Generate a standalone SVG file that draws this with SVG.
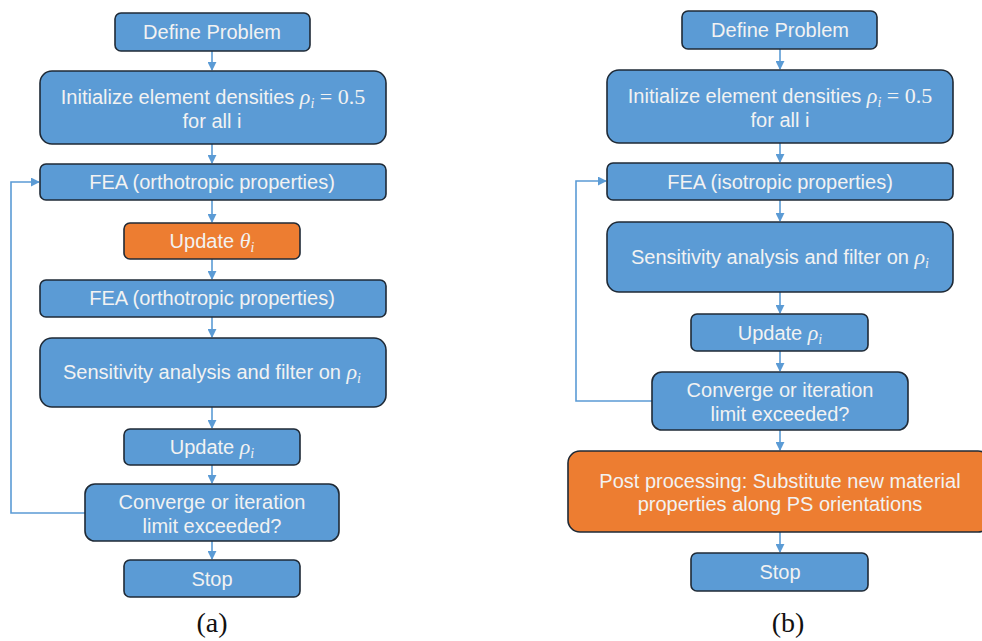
<svg xmlns="http://www.w3.org/2000/svg" width="982" height="641" viewBox="0 0 982 641">
<style>
.b{fill:#5B9BD5;stroke:#1f2a36;stroke-width:1.6}
.o{fill:#ED7D31;stroke:#1f2a36;stroke-width:1.6}
.t{font-family:"Liberation Sans",Arial,sans-serif;font-size:20px;fill:#F2F2F2;text-anchor:middle}
.m{font-family:"Liberation Serif","Times New Roman",serif;font-style:italic;font-size:22px}
.s{font-family:"Liberation Serif","Times New Roman",serif;font-style:italic;font-size:14px}
.n{font-family:"Liberation Serif","Times New Roman",serif;font-size:22px}
.c{stroke:#5B9BD5;stroke-width:1.6;fill:none}
.cap{font-family:"Liberation Serif","Times New Roman",serif;font-size:28px;fill:#111;text-anchor:middle}
</style>
<defs>
<marker id="ar" viewBox="0 0 10 10" refX="9" refY="5" markerWidth="9" markerHeight="9" markerUnits="userSpaceOnUse" orient="auto">
<path d="M0,0 L10,5 L0,10 z" fill="#5B9BD5"/>
</marker>
</defs>
<g id="connectors">
<line class="c" x1="212" y1="51" x2="212" y2="70" marker-end="url(#ar)"/>
<line class="c" x1="212" y1="144" x2="212" y2="163" marker-end="url(#ar)"/>
<line class="c" x1="212" y1="200" x2="212" y2="222" marker-end="url(#ar)"/>
<line class="c" x1="212" y1="259" x2="212" y2="279" marker-end="url(#ar)"/>
<line class="c" x1="212" y1="317" x2="212" y2="337" marker-end="url(#ar)"/>
<line class="c" x1="212" y1="407" x2="212" y2="428" marker-end="url(#ar)"/>
<line class="c" x1="212" y1="465" x2="212" y2="483" marker-end="url(#ar)"/>
<line class="c" x1="212" y1="541" x2="212" y2="559" marker-end="url(#ar)"/>
<polyline class="c" points="85,513 11,513 11,182 39,182" marker-end="url(#ar)"/>
<line class="c" x1="780" y1="49" x2="780" y2="69" marker-end="url(#ar)"/>
<line class="c" x1="780" y1="143" x2="780" y2="162" marker-end="url(#ar)"/>
<line class="c" x1="780" y1="200" x2="780" y2="221" marker-end="url(#ar)"/>
<line class="c" x1="780" y1="292" x2="780" y2="313" marker-end="url(#ar)"/>
<line class="c" x1="780" y1="351" x2="780" y2="371" marker-end="url(#ar)"/>
<line class="c" x1="780" y1="430" x2="780" y2="450" marker-end="url(#ar)"/>
<line class="c" x1="780" y1="532" x2="780" y2="552" marker-end="url(#ar)"/>
<polyline class="c" points="652,401 576,401 576,181 606,181" marker-end="url(#ar)"/>
</g>
<g id="a-define"><rect class="b" x="115" y="13" width="195" height="38" rx="6"/><text class="t" x="212" y="39">Define Problem</text></g>
<g id="a-init"><rect class="b" x="40" y="71" width="346" height="73" rx="12"/><text class="t" x="213" y="104">Initialize element densities <tspan class="m">ρ</tspan><tspan class="s" dy="4">i</tspan><tspan class="n" dy="-4"> = 0.5</tspan></text><text class="t" x="212" y="128">for all i</text></g>
<g id="a-fea1"><rect class="b" x="40" y="164" width="346" height="36" rx="6"/><text class="t" x="212" y="189">FEA (orthotropic properties)</text></g>
<g id="a-theta"><rect class="o" x="124" y="223" width="176" height="36" rx="6"/><text class="t" x="212" y="248">Update <tspan class="m">θ</tspan><tspan class="s" dy="4">i</tspan></text></g>
<g id="a-fea2"><rect class="b" x="40" y="280" width="346" height="37" rx="6"/><text class="t" x="212" y="305">FEA (orthotropic properties)</text></g>
<g id="a-sens"><rect class="b" x="40" y="338" width="346" height="69" rx="12"/><text class="t" x="212" y="379">Sensitivity analysis and filter on <tspan class="m">ρ</tspan><tspan class="s" dy="4">i</tspan></text></g>
<g id="a-rho"><rect class="b" x="124" y="429" width="176" height="36" rx="6"/><text class="t" x="212" y="454">Update <tspan class="m">ρ</tspan><tspan class="s" dy="4">i</tspan></text></g>
<g id="a-conv"><rect class="b" x="85" y="484" width="254" height="57" rx="10"/><text class="t" x="212" y="509">Converge or iteration</text><text class="t" x="212" y="533">limit exceeded?</text></g>
<g id="a-stop"><rect class="b" x="124" y="560" width="176" height="37" rx="6"/><text class="t" x="212" y="586">Stop</text></g>
<text class="cap" x="212" y="632">(a)</text>
<g id="b-define"><rect class="b" x="682" y="11" width="195" height="38" rx="6"/><text class="t" x="780" y="37">Define Problem</text></g>
<g id="b-init"><rect class="b" x="607" y="70" width="346" height="73" rx="12"/><text class="t" x="780" y="103">Initialize element densities <tspan class="m">ρ</tspan><tspan class="s" dy="4">i</tspan><tspan class="n" dy="-4"> = 0.5</tspan></text><text class="t" x="780" y="127">for all i</text></g>
<g id="b-fea"><rect class="b" x="607" y="163" width="346" height="37" rx="6"/><text class="t" x="780" y="189">FEA (isotropic properties)</text></g>
<g id="b-sens"><rect class="b" x="607" y="222" width="346" height="70" rx="12"/><text class="t" x="780" y="264">Sensitivity analysis and filter on <tspan class="m">ρ</tspan><tspan class="s" dy="4">i</tspan></text></g>
<g id="b-rho"><rect class="b" x="691" y="314" width="177" height="37" rx="6"/><text class="t" x="780" y="340">Update <tspan class="m">ρ</tspan><tspan class="s" dy="4">i</tspan></text></g>
<g id="b-conv"><rect class="b" x="652" y="372" width="256" height="58" rx="10"/><text class="t" x="780" y="397">Converge or iteration</text><text class="t" x="780" y="421">limit exceeded?</text></g>
<g id="b-post"><rect class="o" x="568" y="451" width="422" height="81" rx="12"/><text class="t" x="780" y="488">Post processing: Substitute new material</text><text class="t" x="780" y="511">properties along PS orientations</text></g>
<g id="b-stop"><rect class="b" x="691" y="553" width="177" height="38" rx="6"/><text class="t" x="780" y="579">Stop</text></g>
<text class="cap" x="788" y="632">(b)</text>
</svg>
